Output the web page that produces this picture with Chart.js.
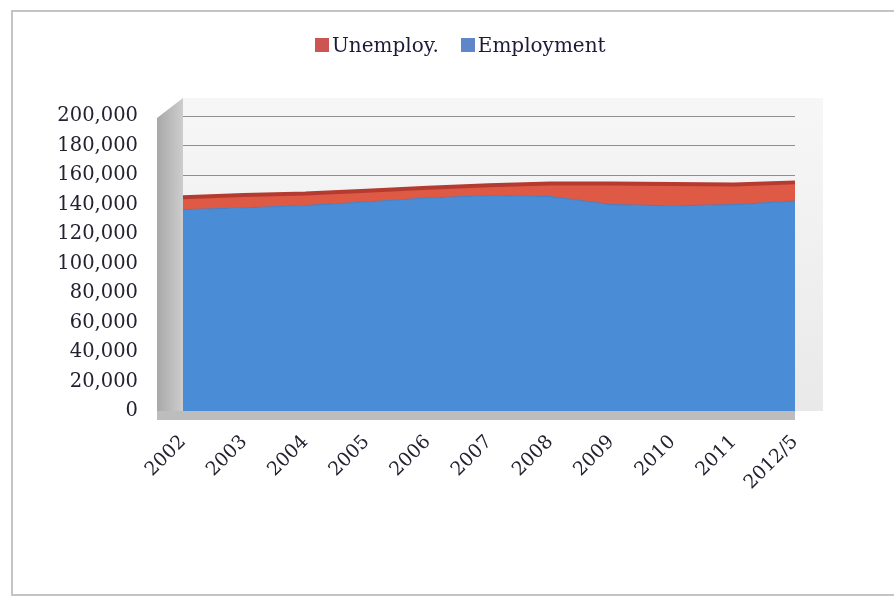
<!DOCTYPE html>
<html>
<head>
<meta charset="utf-8">
<script src="https://cdn.jsdelivr.net/npm/chart.js@4.4.0/dist/chart.umd.min.js"></script>
<style>
html,body{margin:0;padding:0;background:#fff;}
#wrap{width:894px;height:603px;position:relative;}
#legend{position:absolute;left:315px;top:33px;display:flex;align-items:center;
  font-family:'DejaVu Serif',serif;font-size:20px;line-height:24px;color:#1c1c3a;white-space:nowrap;}
#legend .item{display:flex;align-items:center;margin-right:22px;}
#legend .box{width:14px;height:14px;margin-right:3px;}
</style>
</head>
<body>
<div id="wrap"><canvas id="c" width="894" height="603"></canvas><div id="legend"></div></div>
<script>
// ---- data (thousands of persons) ----
const years = ['2002','2003','2004','2005','2006','2007','2008','2009','2010','2011','2012/5'];
const employment   = [136500,137700,139300,141700,144400,146000,145400,139900,139100,139900,142300];
const unemployment = [8400, 8800, 8100, 7600, 7000, 7100, 8900, 14300, 14800, 13700, 12700];
const yTickValues  = [0,20000,40000,60000,80000,100000,120000,140000,160000,180000,200000];
const yTickLabels  = ['0','20,000','40,000','60,000','80,000','100,000','120,000','140,000','160,000','180,000','200,000'];
const seriesNames  = ['Employment','Unemploy.'];
const legendOrder  = [1, 0];
const legendColors = ['#5f86c8', '#cc5453'];

const FONT = "'DejaVu Serif', serif";

// HTML legend (real text)
const lg = document.getElementById('legend');
legendOrder.forEach(i => {
  const it = document.createElement('div'); it.className = 'item';
  const b = document.createElement('div'); b.className = 'box'; b.style.background = legendColors[i];
  const t = document.createElement('span'); t.textContent = seriesNames[i];
  it.appendChild(b); it.appendChild(t); lg.appendChild(it);
});

const decor = {
  id: 'decor',
  beforeDraw(chart) {
    const {ctx, chartArea: a} = chart;
    ctx.save();
    ctx.fillStyle = '#ffffff';
    ctx.fillRect(0, 0, chart.width, chart.height);
    // outer frame
    ctx.strokeStyle = '#c4c4c4';
    ctx.lineWidth = 2;
    ctx.strokeRect(12, 11, chart.width, 584);
    // back wall
    const g = ctx.createLinearGradient(0, a.top, 0, a.bottom);
    g.addColorStop(0, '#f6f6f6');
    g.addColorStop(1, '#e9e9e9');
    ctx.fillStyle = g;
    ctx.fillRect(a.left, a.top - 18, a.right - a.left + 28, a.bottom - a.top + 18);
    // side wall
    const s = ctx.createLinearGradient(a.left - 26, 0, a.left, 0);
    s.addColorStop(0, '#a8a8a8');
    s.addColorStop(1, '#cdcdcd');
    ctx.fillStyle = s;
    ctx.beginPath();
    ctx.moveTo(a.left - 26, a.top + 2);
    ctx.lineTo(a.left, a.top - 18);
    ctx.lineTo(a.left, a.bottom);
    ctx.lineTo(a.left - 26, a.bottom);
    ctx.closePath();
    ctx.fill();
    ctx.restore();
  },
  afterDatasetsDraw(chart) {
    const {ctx, chartArea: a} = chart;
    ctx.save();
    // floor band
    ctx.fillStyle = '#bdbdbd';
    ctx.fillRect(a.left - 26, a.bottom, a.right - a.left + 26, 9);
    ctx.restore();
  }
};

new Chart(document.getElementById('c'), {
  type: 'line',
  data: {
    labels: years,
    datasets: [
      {
        label: seriesNames[0],
        data: employment,
        fill: 'origin',
        backgroundColor: '#4a8dd6',
        borderColor: '#3f80c8',
        borderWidth: 1,
        pointRadius: 0,
        tension: 0
      },
      {
        label: seriesNames[1],
        data: unemployment,
        fill: '-1',
        backgroundColor: '#de5a44',
        borderColor: '#b53a2f',
        borderWidth: 4,
        pointRadius: 0,
        tension: 0
      }
    ]
  },
  plugins: [decor],
  options: {
    responsive: false,
    animation: false,
    devicePixelRatio: 1,
    layout: { padding: { top: 116, left: 0, right: 99, bottom: 0 } },
    plugins: {
      tooltip: { enabled: false },
      title: { display: false },
      legend: { display: false }
    },
    scales: {
      x: {
        type: 'category',
        offset: false,
        grid: { display: false, drawTicks: false },
        border: { display: false },
        ticks: {
          autoSkip: false,
          minRotation: 45,
          maxRotation: 45,
          padding: 20,
          color: '#222230',
          font: { family: FONT, size: 19 }
        },
        afterFit(s) { s.height = 192; }
      },
      y: {
        stacked: true,
        min: yTickValues[0],
        max: yTickValues[yTickValues.length - 1],
        grid: { color: '#8f8f8f', lineWidth: 1, drawTicks: false },
        border: { display: false },
        ticks: {
          stepSize: yTickValues[1] - yTickValues[0],
          padding: 45,
          color: '#222230',
          font: { family: FONT, size: 19.5 },
          callback: function (v) {
            const i = yTickValues.indexOf(Number(v));
            return i >= 0 ? yTickLabels[i] : '';
          }
        },
        afterFit(s) { s.width = 183; }
      }
    }
  }
});
</script>
</body>
</html>
